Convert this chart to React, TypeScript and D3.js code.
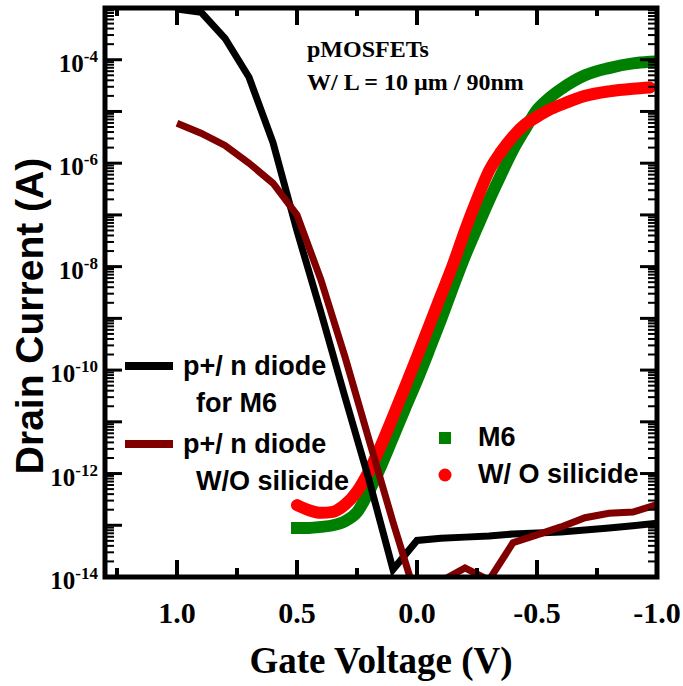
import React from 'react';
import * as d3 from 'd3';

// ---- Data ----
const diodeVoltage = [1.0, 0.9, 0.8, 0.7, 0.6, 0.5, 0.4, 0.3, 0.2, 0.1, 0.0, -0.1, -0.2, -0.3, -0.4, -0.5, -0.6, -0.7, -0.8, -0.9, -1.0];
const diodeM6Current = [9.5e-4, 8.3e-4, 2.6e-4, 4.6e-5, 2.5e-6, 4.9e-8, 1.3e-9, 3.0e-11, 7.6e-13, 1.4e-14, 5.1e-14, 5.6e-14, 5.9e-14, 6.2e-14, 6.8e-14, 7.1e-14, 7.4e-14, 8.1e-14, 8.9e-14, 9.8e-14, 1.1e-13];
const diodeNoSilicideCurrent = [5.9e-6, 3.8e-6, 2.2e-6, 1.0e-6, 4.1e-7, 1.0e-7, 5.5e-9, 1.8e-10, 4.5e-12, 1.15e-13, 3.6e-15, 8.3e-15, 1.5e-14, 8.7e-15, 4.6e-14, 6.5e-14, 9.3e-14, 1.4e-13, 1.7e-13, 1.8e-13, 2.5e-13];

const fetVoltage = [0.5, 0.45, 0.4, 0.35, 0.3, 0.25, 0.2, 0.15, 0.1, 0.05, 0.0, -0.05, -0.1, -0.15, -0.2, -0.25, -0.3, -0.35, -0.4, -0.45, -0.5, -0.55, -0.6, -0.7, -0.8, -0.9, -0.97];
const fetM6Current = [8.9e-14, 8.9e-14, 9.3e-14, 1.0e-13, 1.2e-13, 1.78e-13, 4.5e-13, 1.4e-12, 5.0e-12, 1.8e-11, 6.3e-11, 2.4e-10, 9.5e-10, 4.0e-9, 1.6e-8, 5.6e-8, 1.9e-7, 6.0e-7, 1.8e-6, 4.5e-6, 1.07e-5, 1.8e-5, 2.7e-5, 5.0e-5, 6.9e-5, 8.5e-5, 9.1e-5];
const fetNoSilicideCurrent = [2.45e-13, 1.95e-13, 1.74e-13, 1.82e-13, 2.5e-13, 4.5e-13, 1.12e-12, 3.5e-12, 1.26e-11, 4.7e-11, 1.8e-10, 7.1e-10, 2.8e-9, 1.1e-8, 5.0e-8, 2.0e-7, 7.1e-7, 1.66e-6, 3.3e-6, 5.6e-6, 7.9e-6, 1.07e-5, 1.35e-5, 2.0e-5, 2.45e-5, 2.75e-5, 2.9e-5];

const xMajorTicks = [1.0, 0.5, 0.0, -0.5, -1.0];
const xTickLabels = ['1.0', '0.5', '0.0', '-0.5', '-1.0'];
const xMinorTicks = [1.25, 0.75, 0.25, -0.25, -0.75];
const yLabelExponents = [-4, -6, -8, -10, -12, -14];
const yDecades = [-14, -13, -12, -11, -10, -9, -8, -7, -6, -5, -4, -3];

const legendLeft = [
  { lines: ['p+/ n diode', 'for M6'], color: '#000000' },
  { lines: ['p+/ n diode', 'W/O silicide'], color: '#800000' },
];
const legendRight = [
  { label: 'M6', color: '#008000', shape: 'square' },
  { label: 'W/ O silicide', color: '#ff0000', shape: 'circle' },
];
const annotation = ['pMOSFETs', 'W/ L = 10 \u00b5m / 90nm'];

const W = 683;
const H = 686;
const L = 105, R = 657, T = 8, B = 577;

const serif = '"Liberation Serif", "Times New Roman", serif';
const sans = '"Liberation Sans", Arial, Helvetica, sans-serif';

export default function App() {
  const x = d3.scaleLinear().domain([1.3, -1.0]).range([L, R]);
  const y = d3.scaleLog().domain([1e-14, 1e-3]).range([B, T]);

  const mk = (vs: number[], is: number[], smooth = false) => {
    const g = d3.line<number>().x((_, i) => x(vs[i])).y((d) => y(d));
    if (smooth) g.curve(d3.curveMonotoneX);
    return g(is) || '';
  };

  const minorY: number[] = [];
  yDecades.forEach((d) => {
    if (d >= -3) return;
    for (let k = 2; k <= 9; k++) minorY.push(k * Math.pow(10, d));
  });
  const majorY = yDecades.map((d) => Math.pow(10, d));

  return (
    <svg width={W} height={H} style={{ position: 'absolute', left: 0, top: 0, background: '#fff' }}>
      <defs>
        <clipPath id="plotClip">
          <rect x={L} y={T} width={R - L} height={B - T} />
        </clipPath>
      </defs>
      <rect x={0} y={0} width={W} height={H} fill="#fff" />

      {/* data */}
      <g clipPath="url(#plotClip)">
        <path d={mk(fetVoltage, fetM6Current, true)} fill="none" stroke="#008000" strokeWidth={12} strokeLinecap="square" strokeLinejoin="round" />
        <path d={mk(fetVoltage, fetNoSilicideCurrent, true)} fill="none" stroke="#ff0000" strokeWidth={12} strokeLinecap="round" strokeLinejoin="round" />
        <path d={mk(diodeVoltage, diodeM6Current)} fill="none" stroke="#000" strokeWidth={7} strokeLinejoin="miter" />
        <path d={mk(diodeVoltage, diodeNoSilicideCurrent)} fill="none" stroke="#800000" strokeWidth={7} strokeLinejoin="miter" />
      </g>

      {/* ticks */}
      <g stroke="#000">
        {xMajorTicks.map((v) => (
          <g key={'xM' + v}>
            <line x1={x(v)} x2={x(v)} y1={B} y2={B - 17} strokeWidth={4} />
            <line x1={x(v)} x2={x(v)} y1={T} y2={T + 17} strokeWidth={4} />
          </g>
        ))}
        {xMinorTicks.map((v) => (
          <g key={'xm' + v}>
            <line x1={x(v)} x2={x(v)} y1={B} y2={B - 9} strokeWidth={4} />
            <line x1={x(v)} x2={x(v)} y1={T} y2={T + 8} strokeWidth={4} />
          </g>
        ))}
        {majorY.map((v) => (
          <g key={'yM' + v}>
            <line x1={L} x2={L + 17} y1={y(v)} y2={y(v)} strokeWidth={3} />
            <line x1={R} x2={R - 17} y1={y(v)} y2={y(v)} strokeWidth={3} />
          </g>
        ))}
        {minorY.map((v) => (
          <g key={'ym' + v}>
            <line x1={L} x2={L + 9} y1={y(v)} y2={y(v)} strokeWidth={2} />
            <line x1={R} x2={R - 9} y1={y(v)} y2={y(v)} strokeWidth={2} />
          </g>
        ))}
      </g>

      {/* frame */}
      <rect x={L} y={T} width={R - L} height={B - T} fill="none" stroke="#000" strokeWidth={5} />

      {/* x tick labels */}
      {xMajorTicks.map((v, i) => (
        <text key={'xl' + v} x={x(v)} y={623} textAnchor="middle" fontFamily={serif} fontWeight="bold" fontSize={30} fill="#000">
          {xTickLabels[i]}
        </text>
      ))}

      {/* y tick labels */}
      {yLabelExponents.map((e) => (
        <text key={'yl' + e} x={98} y={y(Math.pow(10, e)) + 12} textAnchor="end" fontFamily={serif} fontWeight="bold" fontSize={25} fill="#000">
          <tspan>10</tspan>
          <tspan dy={-10} fontSize={17}>{String(e)}</tspan>
        </text>
      ))}

      {/* axis titles */}
      <text x={381} y={673} textAnchor="middle" fontFamily={serif} fontWeight="bold" fontSize={37} fill="#000">
        Gate Voltage (V)
      </text>
      <text transform="translate(43,316) rotate(-90)" textAnchor="middle" fontFamily={sans} fontWeight="bold" fontSize={39} fill="#000">
        Drain Current (A)
      </text>

      {/* annotation */}
      <text x={307} y={57} fontFamily={serif} fontWeight="bold" fontSize={24} fill="#000">{annotation[0]}</text>
      <text x={307} y={90} fontFamily={serif} fontWeight="bold" fontSize={24} fill="#000">{annotation[1]}</text>

      {/* left legend */}
      {legendLeft.map((item, i) => {
        const ly = i === 0 ? 366 : 444;
        return (
          <g key={'ll' + i}>
            <line x1={125} x2={173} y1={ly} y2={ly} stroke={item.color} strokeWidth={8} />
            <text x={183} y={ly + 9} fontFamily={sans} fontWeight="bold" fontSize={27} fill="#000">{item.lines[0]}</text>
            <text x={196} y={ly + 46} fontFamily={sans} fontWeight="bold" fontSize={27} fill="#000">{item.lines[1]}</text>
          </g>
        );
      })}

      {/* right legend */}
      {legendRight.map((item, i) => {
        const cy = i === 0 ? 438 : 475;
        return (
          <g key={'lr' + i}>
            {item.shape === 'square' ? (
              <rect x={439} y={cy - 6} width={12} height={12} fill={item.color} />
            ) : (
              <circle cx={445} cy={cy} r={6.5} fill={item.color} />
            )}
            <text x={478} y={cy + 8} fontFamily={sans} fontWeight="bold" fontSize={27} fill="#000">{item.label}</text>
          </g>
        );
      })}
    </svg>
  );
}
